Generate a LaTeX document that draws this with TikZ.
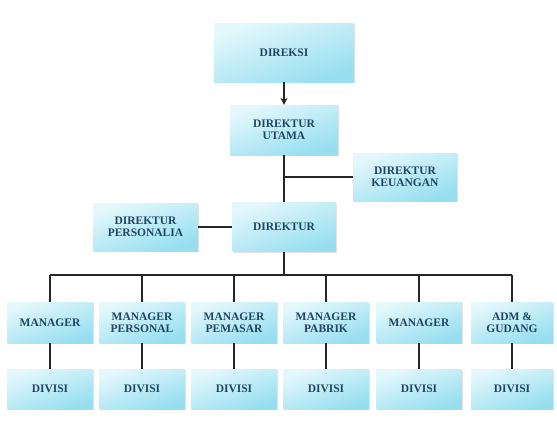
\documentclass[tikz,border=0pt]{standalone}
\usepackage{fontspec}
\setmainfont{Liberation Serif}
\usetikzlibrary{shadows,arrows.meta}
\definecolor{boxlight}{RGB}{228,248,252}
\definecolor{boxdark}{RGB}{150,222,240}
\definecolor{txt}{RGB}{30,70,100}
\tikzset{
  orgbox/.style={draw=none, shading=axis, top color=boxlight, bottom color=boxdark, shading angle=20,
    minimum width=#1, inner sep=0pt, align=center, text=txt,
    font=\bfseries\fontsize{11.5}{12}\selectfont,
    drop shadow={opacity=0.22, shadow xshift=1.2pt, shadow yshift=-1.2pt}},
  orgbox/.default=85pt,
  conn/.style={line width=1.8pt, black!85}
}
\begin{document}
\begin{tikzpicture}[x=1pt,y=-1pt]
\useasboundingbox (0,0) rectangle (557,442);
\fill[white] (0,0) rectangle (557,442);
% top part
\node[orgbox=140pt, minimum height=59pt] (dir) at (284,52.5) {DIREKSI};
\node[orgbox=108pt, minimum height=50pt] (utama) at (284,130) {DIREKTUR\\UTAMA};
\node[orgbox=104pt, minimum height=48pt] (keu) at (405,177) {DIREKTUR\\KEUANGAN};
\node[orgbox=105pt, minimum height=48pt] (pers) at (145.5,227) {DIREKTUR\\PERSONALIA};
\node[orgbox=103pt, minimum height=49pt] (direktur) at (284,227) {DIREKTUR};
% managers
\node[orgbox, minimum height=41pt] (m1) at (50,322.5) {MANAGER};
\node[orgbox, minimum height=41pt] (m2) at (142,322.5) {MANAGER\\PERSONAL};
\node[orgbox, minimum height=41pt] (m3) at (234,322.5) {MANAGER\\PEMASAR};
\node[orgbox, minimum height=41pt] (m4) at (326,322.5) {MANAGER\\PABRIK};
\node[orgbox, minimum height=41pt] (m5) at (419,322.5) {MANAGER};
\node[orgbox=82pt, minimum height=41pt] (m6) at (512,322.5) {ADM \&\\GUDANG};
% divisions
\node[orgbox, minimum height=40pt] (d1) at (50,389) {DIVISI};
\node[orgbox, minimum height=40pt] (d2) at (142,389) {DIVISI};
\node[orgbox, minimum height=40pt] (d3) at (234,389) {DIVISI};
\node[orgbox, minimum height=40pt] (d4) at (326,389) {DIVISI};
\node[orgbox, minimum height=40pt] (d5) at (419,389) {DIVISI};
\node[orgbox=82pt, minimum height=40pt] (d6) at (512,389) {DIVISI};
% connectors
\draw[conn,-{Stealth[length=7pt,width=7pt]}] (dir.south) -- (utama.north);
\draw[conn] (utama.south) -- (direktur.north);
\draw[conn] (keu.west) -- (keu.west -| utama.south);
\draw[conn] (pers.east) -- (direktur.west);
\coordinate (bus) at (284,275);
\draw[conn] (direktur.south) -- (bus);
\draw[conn] (m1.north |- bus) -- (m6.north |- bus);
\foreach \i in {1,...,6}{
  \draw[conn] (m\i.north |- bus) -- (m\i.north);
  \draw[conn] (m\i.south) -- (d\i.north);
}
\end{tikzpicture}
\end{document}
